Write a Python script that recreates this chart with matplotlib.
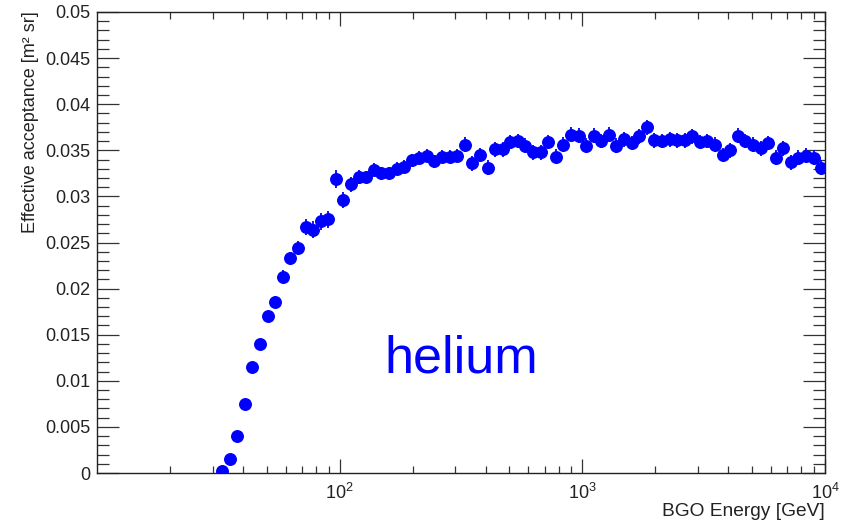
import matplotlib
matplotlib.use("Agg")
import matplotlib.pyplot as plt
from matplotlib.ticker import FixedLocator, FixedFormatter, LogLocator, NullFormatter

plt.rcParams['font.family'] = ['Liberation Sans', 'DejaVu Sans']
plt.rcParams['mathtext.fontset'] = 'custom'
plt.rcParams['mathtext.rm'] = 'Liberation Sans'
plt.rcParams['mathtext.it'] = 'Liberation Sans:italic'

# bin centres (GeV)
energy = [32.78, 35.23, 37.85, 40.68, 43.71, 46.97, 50.48, 54.24, 58.29, 62.64,
          67.31, 72.33, 77.73, 83.53, 89.76, 96.46, 103.7, 111.4, 119.7, 128.6,
          138.2, 148.5, 159.6, 171.5, 184.3, 198.1, 212.9, 228.7, 245.8, 264.1,
          283.8, 305.0, 327.8, 352.3, 378.5, 406.8, 437.1, 469.7, 504.8, 542.4,
          582.9, 626.4, 673.1, 723.3, 777.3, 835.3, 897.6, 964.6, 1037, 1114,
          1197, 1286, 1382, 1485, 1596, 1715, 1843, 1981, 2129, 2287,
          2458, 2641, 2838, 3050, 3278, 3523, 3785, 4068, 4371, 4697,
          5048, 5424, 5829, 6264, 6731, 7233, 7773, 8353, 8976, 9646]

# effective acceptance [m^2 sr]
acceptance = [0.0002, 0.0015, 0.0040, 0.0075, 0.0115, 0.0140, 0.0170, 0.0186, 0.0213, 0.0233,
              0.0244, 0.0267, 0.0264, 0.0273, 0.0275, 0.0319, 0.0296, 0.0313, 0.0321, 0.0321,
              0.0329, 0.0325, 0.0325, 0.0330, 0.0332, 0.0339, 0.0342, 0.0344, 0.0338, 0.0343,
              0.0343, 0.0344, 0.0356, 0.0336, 0.0345, 0.0331, 0.0351, 0.0351, 0.0359, 0.0360,
              0.0355, 0.0348, 0.0348, 0.0359, 0.0343, 0.0356, 0.0367, 0.0366, 0.0355, 0.0366,
              0.0360, 0.0367, 0.0355, 0.0362, 0.0358, 0.0365, 0.0375, 0.0361, 0.0360, 0.0362,
              0.0361, 0.0361, 0.0365, 0.0359, 0.0360, 0.0356, 0.0345, 0.0350, 0.0366, 0.0360,
              0.0356, 0.0352, 0.0358, 0.0342, 0.0352, 0.0337, 0.0342, 0.0344, 0.0342, 0.0331]

errors = [0.0003, 0.0003, 0.0003, 0.0004, 0.0004, 0.0005, 0.0006, 0.0006, 0.0007, 0.0007,
          0.0008, 0.0009, 0.0009, 0.0009, 0.0009, 0.0010, 0.0009, 0.0008, 0.0008, 0.0007,
          0.0007, 0.0007, 0.0007, 0.0007, 0.0007, 0.0007, 0.0007, 0.0007, 0.0007, 0.0007,
          0.0007, 0.0007, 0.0008, 0.0008, 0.0008, 0.0008, 0.0008, 0.0008, 0.0008, 0.0008,
          0.0008, 0.0008, 0.0008, 0.0008, 0.0008, 0.0008, 0.0008, 0.0008, 0.0008, 0.0008,
          0.0008, 0.0008, 0.0008, 0.0008, 0.0008, 0.0008, 0.0008, 0.0008, 0.0008, 0.0008,
          0.0008, 0.0008, 0.0008, 0.0008, 0.0008, 0.0008, 0.0008, 0.0008, 0.0008, 0.0008,
          0.0008, 0.0008, 0.0008, 0.0008, 0.0008, 0.0008, 0.0008, 0.0008, 0.0008, 0.0008]

y_ticks = [0, 0.005, 0.01, 0.015, 0.02, 0.025, 0.03, 0.035, 0.04, 0.045, 0.05]
y_labels = ['0', '0.005', '0.01', '0.015', '0.02', '0.025', '0.03', '0.035', '0.04', '0.045', '0.05']
x_ticks = [100, 1000, 10000]
x_labels = ['$10^{2}$', '$10^{3}$', '$10^{4}$']

fig = plt.figure(figsize=(8.48, 5.26), dpi=100)
ax = fig.add_axes([97 / 848, 1 - 473 / 526, 728 / 848, 461 / 526])

ax.errorbar(energy, acceptance, yerr=errors, fmt='o', color='#0000ff', ms=8.3,
            elinewidth=1.3, capsize=0, zorder=3)

ax.set_xscale('log')
ax.set_xlim(10, 10000)
ax.set_ylim(0, 0.05)

ax.xaxis.set_major_locator(FixedLocator(x_ticks))
ax.xaxis.set_major_formatter(FixedFormatter(x_labels))
ax.xaxis.set_minor_locator(LogLocator(base=10, subs=range(2, 10)))
ax.xaxis.set_minor_formatter(NullFormatter())
ax.yaxis.set_major_locator(FixedLocator(y_ticks))
ax.yaxis.set_major_formatter(FixedFormatter(y_labels))
ax.yaxis.set_minor_locator(FixedLocator([i * 0.001 for i in range(51)]))

ax.tick_params(axis='both', which='both', direction='in', top=True, right=True,
               color='#333333', width=0.9, labelcolor='#222222')
ax.tick_params(axis='x', which='major', length=10, labelsize=13, pad=7)
ax.tick_params(axis='x', which='minor', length=5)
ax.tick_params(axis='y', which='major', length=16, labelsize=13, pad=5)
ax.tick_params(axis='y', which='minor', length=8.5)
for sp in ax.spines.values():
    sp.set_color('#222222')
    sp.set_linewidth(1.0)

ax.text(0.5, 0.219, 'helium', transform=ax.transAxes, ha='center', va='baseline',
        fontsize=37.5, color='#0000ff')

fig.text(31 / 848, 1 - 11 / 526, 'Effective acceptance [m² sr]', rotation=90,
         ha='center', va='top', fontsize=13, color='#222222')
fig.text(825 / 848, 1 - 512 / 526, 'BGO Energy [GeV]', ha='right', va='center',
         fontsize=13.8, color='#222222')

fig.savefig('out.png', dpi=100)
